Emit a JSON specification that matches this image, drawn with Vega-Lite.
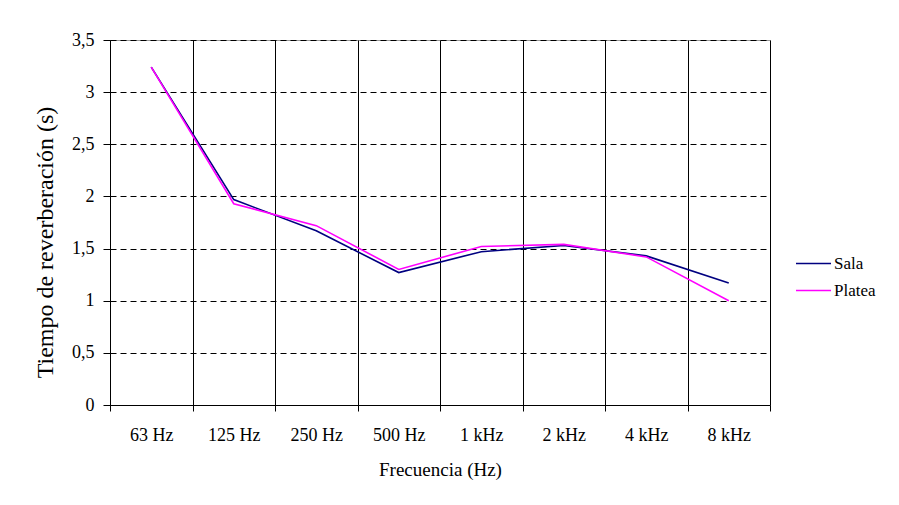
{
  "$schema": "https://vega.github.io/schema/vega-lite/v6.json",
  "width": 660,
  "height": 365,
  "autosize": {"type": "none"},
  "padding": {"left": 110, "top": 40, "right": 129, "bottom": 100},
  "background": "white",
  "config": {
    "font": "Liberation Serif",
    "view": {"stroke": "#999", "strokeWidth": 1},
    "style": {"guide-label": {"font": "Liberation Serif", "fontSize": 18, "fill": "black"}, "guide-title": {"font": "Liberation Serif", "fontSize": 19, "fill": "black", "fontWeight": "normal"}},
    "axis": {"labelFont": "Liberation Serif", "titleFont": "Liberation Serif", "labelColor": "black", "titleColor": "black", "domainColor": "black", "tickColor": "black", "labelFontSize": 18, "titleFontSize": 19, "titleFontWeight": "normal"},
    "legend": {"labelFont": "Liberation Serif", "labelFontSize": 17, "labelColor": "black"}
  },
  "data": {
    "values": [
      {"freq": "63 Hz", "serie": "Sala", "valor": 3.24},
      {"freq": "125 Hz", "serie": "Sala", "valor": 1.97},
      {"freq": "250 Hz", "serie": "Sala", "valor": 1.67},
      {"freq": "500 Hz", "serie": "Sala", "valor": 1.27},
      {"freq": "1 kHz", "serie": "Sala", "valor": 1.47},
      {"freq": "2 kHz", "serie": "Sala", "valor": 1.53},
      {"freq": "4 kHz", "serie": "Sala", "valor": 1.43},
      {"freq": "8 kHz", "serie": "Sala", "valor": 1.17},
      {"freq": "63 Hz", "serie": "Platea", "valor": 3.24},
      {"freq": "125 Hz", "serie": "Platea", "valor": 1.93},
      {"freq": "250 Hz", "serie": "Platea", "valor": 1.72},
      {"freq": "500 Hz", "serie": "Platea", "valor": 1.30},
      {"freq": "1 kHz", "serie": "Platea", "valor": 1.52},
      {"freq": "2 kHz", "serie": "Platea", "valor": 1.54},
      {"freq": "4 kHz", "serie": "Platea", "valor": 1.42},
      {"freq": "8 kHz", "serie": "Platea", "valor": 1.00}
    ]
  },
  "mark": {"type": "line", "strokeWidth": 1.6},
  "encoding": {
    "x": {
      "field": "freq",
      "type": "nominal",
      "sort": ["63 Hz", "125 Hz", "250 Hz", "500 Hz", "1 kHz", "2 kHz", "4 kHz", "8 kHz"],
      "scale": {"type": "band", "paddingInner": 0, "paddingOuter": 0},
      "axis": {
        "title": "Frecuencia (Hz)",
        "labelFont": "Liberation Serif",
        "labelFontSize": 18,
        "labelAngle": 0,
        "tickBand": "extent",
        "grid": true,
        "gridColor": "black",
        "gridOpacity": 1,
        "gridWidth": 1,
        "tickSize": 6,
        "labelPadding": 15,
        "titlePadding": 16
      }
    },
    "y": {
      "field": "valor",
      "type": "quantitative",
      "scale": {"domain": [0, 3.5], "nice": false},
      "axis": {
        "title": "Tiempo de reverberación (s)",
        "titleFontSize": 24,
        "titleY": 202,
        "labelFont": "Liberation Serif",
        "labelFontSize": 18,
        "values": [0, 0.5, 1, 1.5, 2, 2.5, 3, 3.5],
        "labelExpr": "replace(format(datum.value, '~g'), '.', ',')",
        "grid": true,
        "gridColor": "black",
        "gridOpacity": 1,
        "gridDash": [6, 4],
        "gridWidth": 1,
        "tickSize": 7,
        "labelPadding": 9,
        "titlePadding": 14
      }
    },
    "color": {
      "field": "serie",
      "type": "nominal",
      "sort": ["Sala", "Platea"],
      "scale": {"domain": ["Sala", "Platea"], "range": ["#000080", "#FF00FF"]},
      "legend": {
        "title": null,
        "orient": "none",
        "legendX": 685,
        "legendY": 205,
        "symbolType": "stroke",
        "symbolSize": 1225,
        "symbolStrokeWidth": 1.6,
        "labelFont": "Liberation Serif",
        "labelFontSize": 17,
        "labelOffset": 2,
        "rowPadding": -8
      }
    }
  }
}
